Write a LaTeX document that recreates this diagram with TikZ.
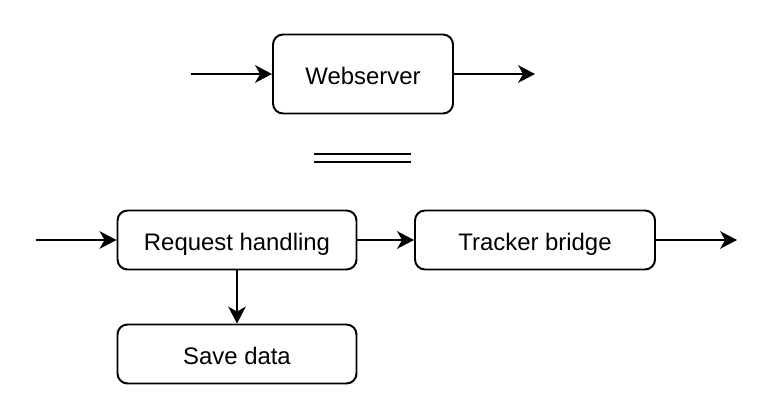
\documentclass[tikz,border=0pt]{standalone}
\usepackage{fontspec}
\setmainfont{Liberation Sans}
\usetikzlibrary{arrows.meta,positioning}
\tikzset{
  block/.style={draw, line width=1.4pt, rounded corners=0.25cm, font=\fontsize{17}{20}\selectfont, inner sep=0pt, text height=0.56cm, text depth=0.04cm},
  flow/.style={line width=1.4pt, -{Stealth[length=12pt, width=12.5pt, inset=3.5pt]}}
}
\begin{document}
\begin{tikzpicture}
\useasboundingbox (0,0) rectangle (19.1,-10.45);
% top: the webserver as a whole
\node[block, minimum width=4.5cm, minimum height=1.975cm] (web) at (9.075,-1.85) {Webserver};
\coordinate (webin) at (4.775,-1.85);
\coordinate (webout) at (13.375,-1.85);
\draw[flow] (webin) -- (web);
\draw[flow] (web) -- (webout);
% equals sign
\draw[line width=1.4pt] (7.85,-3.85) -- (10.275,-3.85);
\draw[line width=1.4pt] (7.85,-4.04) -- (10.275,-4.04);
% bottom: its parts
\node[block, minimum width=5.975cm, minimum height=1.475cm] (req) at (5.925,-6) {Request handling};
\node[block, minimum width=6cm, minimum height=1.475cm] (track) at (13.375,-6) {Tracker bridge};
\node[block, minimum width=5.975cm, minimum height=1.475cm] (save) at (5.925,-8.85) {Save data};
\coordinate (reqin) at (0.9,-6);
\coordinate (trackout) at (18.425,-6);
\draw[flow] (reqin) -- (req);
\draw[flow] (req) -- (track);
\draw[flow] (track) -- (trackout);
\draw[flow] (req) -- (save);
\end{tikzpicture}
\end{document}
